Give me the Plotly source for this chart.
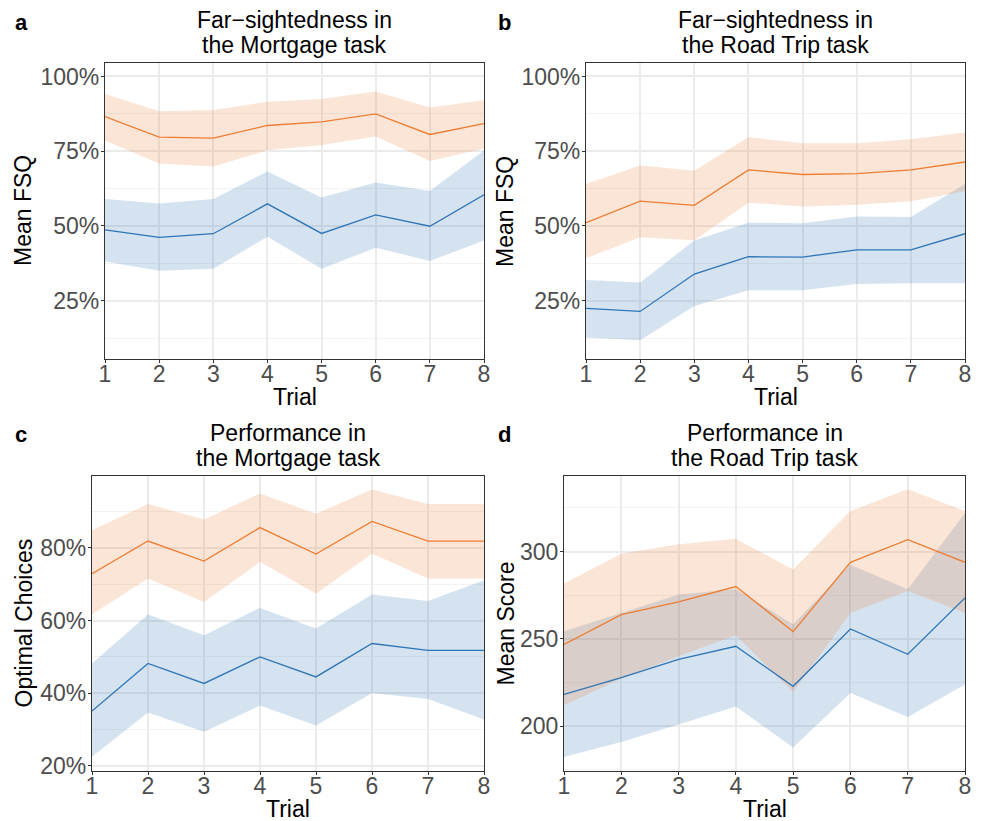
import plotly.graph_objects as go

trials = [1, 2, 3, 4, 5, 6, 7, 8]

# a: far-sightedness, Mortgage task (percent)
a_orange = [86.6, 79.7, 79.4, 83.6, 84.8, 87.5, 80.6, 84.2]
a_orange_hi = [94.1, 88.4, 88.8, 91.5, 92.5, 95.0, 89.6, 92.0]
a_orange_lo = [78.6, 70.9, 69.9, 75.3, 77.1, 79.9, 71.7, 75.9]
a_blue = [48.7, 46.2, 47.4, 57.4, 47.5, 53.7, 49.9, 60.4]
a_blue_hi = [59.0, 57.5, 59.0, 68.2, 59.5, 64.5, 61.7, 75.2]
a_blue_lo = [38.1, 35.0, 35.7, 46.4, 35.7, 42.7, 38.3, 45.1]

# b: far-sightedness, Road Trip task (percent)
b_orange = [51.1, 58.3, 56.9, 68.75, 67.2, 67.5, 68.75, 71.4]
b_orange_hi = [64.0, 70.2, 68.5, 79.7, 77.7, 77.7, 79.0, 81.25]
b_orange_lo = [39.2, 46.2, 45.2, 57.8, 56.5, 57.1, 58.3, 61.6]
b_blue = [22.4, 21.4, 33.9, 39.7, 39.6, 42.0, 42.0, 47.4]
b_blue_hi = [31.9, 31.1, 45.1, 51.1, 50.9, 53.2, 53.0, 64.0]
b_blue_lo = [12.7, 11.8, 23.2, 28.5, 28.5, 30.6, 30.8, 30.8]

# c: performance, Mortgage task (percent optimal choices)
c_orange = [72.9, 81.9, 76.4, 85.6, 78.3, 87.3, 81.9, 81.9]
c_orange_hi = [84.9, 92.1, 87.8, 95.0, 89.4, 96.1, 92.1, 92.1]
c_orange_lo = [61.7, 71.6, 65.1, 76.1, 67.4, 78.4, 71.6, 71.6]
c_blue = [35.1, 48.2, 42.7, 50.0, 44.5, 53.7, 51.8, 51.8]
c_blue_hi = [48.2, 61.7, 56.0, 63.5, 57.8, 67.2, 65.4, 71.1]
c_blue_lo = [22.5, 34.7, 29.4, 36.6, 31.1, 40.1, 38.4, 32.8]

# d: performance, Road Trip task (mean score)
d_orange = [246.9, 263.9, 271.2, 280.0, 254.2, 293.9, 306.9, 293.9]
d_orange_hi = [281.7, 298.8, 304.2, 307.4, 289.7, 323.2, 335.7, 323.2]
d_orange_lo = [212.1, 227.3, 240.1, 252.1, 219.6, 264.9, 277.5, 264.9]
d_blue = [218.3, 227.9, 238.3, 245.8, 222.9, 255.7, 241.2, 273.5]
d_blue_hi = [254.4, 264.9, 275.5, 278.5, 258.4, 292.5, 278.5, 322.1]
d_blue_lo = [182.4, 191.0, 201.0, 211.4, 187.8, 219.1, 205.3, 223.9]

ORANGE = "#ED7D31"
BLUE = "#2E75B6"
FONT = "Liberation Sans, Arial, sans-serif"
W, H = 981, 821

panels = [
    # letter, title lines, y title, plot box px (l, r, t, b), y range, ticks, minor start, suffix, series
    ("a", ("Far−sightedness in", "the Mortgage task"), "Mean FSQ",
     (105, 484, 63, 359), [5.5, 104.5], [25, 50, 75, 100], 12.5, "%",
     (a_orange, a_orange_hi, a_orange_lo, a_blue, a_blue_hi, a_blue_lo)),
    ("b", ("Far−sightedness in", "the Road Trip task"), "Mean FSQ",
     (586, 965, 63, 359), [5.5, 104.5], [25, 50, 75, 100], 12.5, "%",
     (b_orange, b_orange_hi, b_orange_lo, b_blue, b_blue_hi, b_blue_lo)),
    ("c", ("Performance in", "the Mortgage task"), "Optimal Choices",
     (92, 484, 476, 771), [18.6, 99.8], [20, 40, 60, 80], 30, "%",
     (c_orange, c_orange_hi, c_orange_lo, c_blue, c_blue_hi, c_blue_lo)),
    ("d", ("Performance in", "the Road Trip task"), "Mean Score",
     (564, 965, 476, 771), [174.4, 343.3], [200, 250, 300], 175, "",
     (d_orange, d_orange_hi, d_orange_lo, d_blue, d_blue_hi, d_blue_lo)),
]


def rgba(col, a):
    r, g, b = int(col[1:3], 16), int(col[3:5], 16), int(col[5:7], 16)
    return f"rgba({r},{g},{b},{a})"


def px(x=None, y=None):
    if x is not None:
        return x / W
    return 1 - y / H


fig = go.Figure()
annotations = []

for i, (letter, title, ytitle, box, yrange, yticks, minor0, suffix, series) in enumerate(panels):
    n = "" if i == 0 else str(i + 1)
    xa, ya = "x" + n, "y" + n
    left, right, top, bottom = box
    orng, orng_hi, orng_lo, blu, blu_hi, blu_lo = series

    # blue ribbon first, orange over it (gives the brownish overlap)
    for hi, lo, col in ((blu_hi, blu_lo, BLUE), (orng_hi, orng_lo, ORANGE)):
        fig.add_trace(go.Scatter(
            x=trials + trials[::-1], y=hi + lo[::-1], fill="toself",
            fillcolor=rgba(col, 0.2), mode="none",
            xaxis=xa, yaxis=ya, showlegend=False, hoverinfo="skip"))

    for vals, col in ((orng, ORANGE), (blu, BLUE)):
        fig.add_trace(go.Scatter(
            x=trials, y=vals, mode="lines", line=dict(color=col, width=1.3),
            xaxis=xa, yaxis=ya, showlegend=False))

    axis_common = dict(
        showline=True, mirror=True, linecolor="#333333", linewidth=1.3,
        ticks="outside", ticklen=3, tickcolor="#333333", tickwidth=1,
        gridcolor="#EBEBEB", gridwidth=1.6, zeroline=False, automargin=False,
        tickfont=dict(size=23, color="#4D4D4D", family=FONT),
    )
    fig.layout["xaxis" + n] = dict(
        axis_common, domain=[px(x=left), px(x=right)], anchor=ya, range=[1, 8],
        tickvals=trials, ticktext=[str(t) for t in trials], ticklabelstandoff=-9,
    )
    fig.layout["yaxis" + n] = dict(
        axis_common, domain=[px(y=bottom), px(y=top)], anchor=xa, range=yrange,
        tickvals=yticks, ticktext=[f"{v}{suffix}" for v in yticks], ticklabelstandoff=-3,
        minor=dict(showgrid=True, gridcolor="#F2F2F2", gridwidth=1,
                   tick0=minor0, dtick=yticks[1] - yticks[0], ticks=""),
    )

    xmid = (left + right) / 2
    big = dict(size=23, color="black", family=FONT)
    annotations += [
        dict(text=title[0], x=px(x=xmid), y=px(y=top - 43), font=big),
        dict(text=title[1], x=px(x=xmid), y=px(y=top - 18), font=big),
        dict(text="Trial", x=px(x=xmid), y=px(y=bottom + 38), font=big),
        dict(text=ytitle, x=px(x=23 if i % 2 == 0 else 505), y=px(y=(top + bottom) / 2),
             textangle=-90, font=big),
        dict(text="<b>" + letter + "</b>", x=px(x=(21 if i % 2 == 0 else 504)),
             y=px(y=top - 41), font=dict(size=22, color="black", family=FONT)),
    ]

for ann in annotations:
    ann.update(xref="paper", yref="paper", showarrow=False,
               xanchor="center", yanchor="middle")

fig.update_layout(
    width=W, height=H,
    margin=dict(l=0, r=0, t=0, b=0),
    paper_bgcolor="white", plot_bgcolor="white",
    annotations=annotations,
    font=dict(family=FONT),
)

fig.write_html("out.html", config={"displayModeBar": False},
               post_script="document.body.style.margin='0';")
